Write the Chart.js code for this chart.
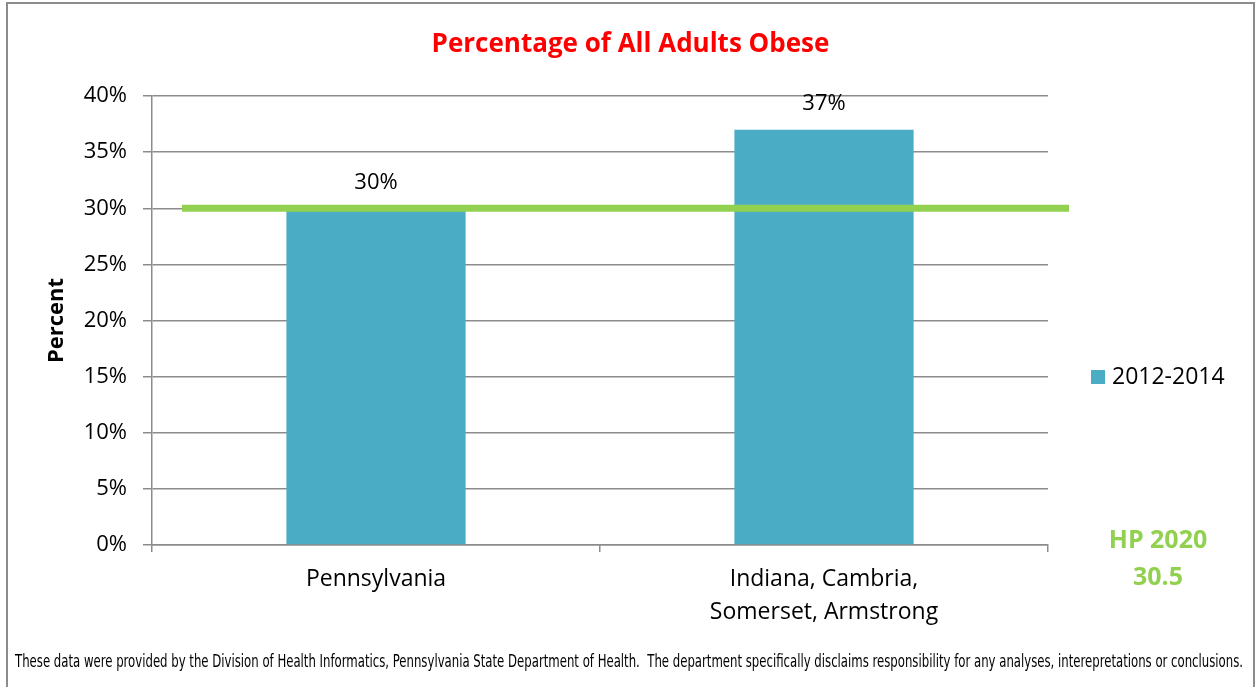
<!DOCTYPE html>
<html lang="en">
<head>
  <meta charset="UTF-8" />
  <title>Percentage of All Adults Obese</title>
  <script src="https://cdn.jsdelivr.net/npm/chart.js"></script>
  <style>
    * { margin: 0; padding: 0; box-sizing: border-box; }
    body { width: 1255px; height: 687px; background: #fff; position: relative; overflow: hidden; }
    #frame {
      position: absolute; left: 6px; top: 2px; width: 1249px; height: 720px;
      border: 2px solid #8c8c8c; pointer-events: none;
    }
    canvas { position: absolute; left: 0; top: 0; }
  </style>
</head>
<body>
  <div id="frame"></div>
  <canvas id="obeseChart" width="1255" height="687"></canvas>

  <script>
    // chart data
    const categories = ['Pennsylvania', ['Indiana, Cambria,', 'Somerset, Armstrong']];
    const obesePct = [30, 37];
    const seriesLabel = '2012-2014';
    const hpLineValue = 30;          // green target line, as drawn
    const hpLabel = ['HP 2020', '30.5'];
    const yMin = 0, yMax = 40, yStep = 5;
    const chartTitle = 'Percentage of All Adults Obese';
    const footerText = 'These data were provided by the Division of Health Informatics, Pennsylvania State Department of Health.  The department specifically disclaims responsibility for any analyses, interepretations or conclusions.';

    const barBlue = '#4BACC6';
    const hpGreen = '#92D050';
    const gridGray = '#8c8c8c';

    Chart.defaults.font.family = "'Open Sans', sans-serif";
    Chart.defaults.color = '#000';

    const overlay = {
      id: 'overlay',
      afterDatasetsDraw(chart) {
        const { ctx, chartArea, scales } = chart;
        // HP 2020 target line
        const y = scales.y.getPixelForValue(hpLineValue);
        ctx.save();
        ctx.strokeStyle = hpGreen;
        ctx.lineWidth = 7;
        ctx.beginPath();
        ctx.moveTo(chartArea.left + 30, y);
        ctx.lineTo(chartArea.right + 21, y);
        ctx.stroke();

        // value labels over bars
        ctx.fillStyle = '#000';
        ctx.font = "22px 'Open Sans', sans-serif";
        ctx.textAlign = 'center';
        ctx.textBaseline = 'middle';
        chart.getDatasetMeta(0).data.forEach((bar, i) => {
          ctx.fillText(obesePct[i] + '%', bar.x, bar.y - 26);
        });
        ctx.restore();
      },
      afterDraw(chart) {
        const { ctx, chartArea, width } = chart;
        ctx.save();
        ctx.textBaseline = 'middle';

        // title, centred on the whole picture
        ctx.fillStyle = '#ff0000';
        ctx.font = "bold 26px 'Open Sans', sans-serif";
        ctx.textAlign = 'center';
        ctx.fillText(chartTitle, width / 2 + 3, 45);

        // legend
        const lx = chartArea.right + 43, ly = 377;
        ctx.fillStyle = barBlue;
        ctx.fillRect(lx, ly - 7, 14, 14);
        ctx.fillStyle = '#000';
        ctx.font = "23px 'Open Sans', sans-serif";
        ctx.textAlign = 'left';
        ctx.fillText(seriesLabel, lx + 21, ly);

        // HP 2020 note
        ctx.fillStyle = hpGreen;
        ctx.font = "bold 25px 'Open Sans', sans-serif";
        ctx.textAlign = 'center';
        ctx.fillText(hpLabel[0], chartArea.right + 110, chartArea.bottom - 4);
        ctx.fillText(hpLabel[1], chartArea.right + 110, chartArea.bottom + 33);

        // footer
        ctx.fillStyle = '#000';
        ctx.font = "18px 'Liberation Sans Narrow', 'DejaVu Sans Condensed', sans-serif";
        ctx.textAlign = 'left';
        ctx.fillText(footerText, 15, 662, 1228);
        ctx.restore();
      }
    };

    new Chart(document.getElementById('obeseChart'), {
      type: 'bar',
      data: {
        labels: categories,
        datasets: [{
          label: seriesLabel,
          data: obesePct,
          backgroundColor: barBlue,
          categoryPercentage: 1,
          barPercentage: 0.4
        }]
      },
      options: {
        responsive: false,
        animation: false,
        layout: { padding: { left: 0, right: 207, top: 96, bottom: 0 } },
        plugins: {
          legend: { display: false },
          tooltip: { enabled: false },
          title: { display: false }
        },
        scales: {
          x: {
            afterFit: s => { s.height = 142; },
            grid: { offset: true, drawOnChartArea: false, drawTicks: true, tickLength: 7, color: gridGray, lineWidth: 1.5 },
            border: { display: true, color: gridGray, width: 1.5 },
            ticks: { font: { size: 23, lineHeight: 1.42 }, color: '#000', padding: 11, maxRotation: 0 }
          },
          y: {
            min: yMin,
            max: yMax,
            afterFit: s => { s.width = 152; },
            grid: { color: gridGray, lineWidth: 1.5, tickLength: 9 },
            border: { display: true, color: gridGray, width: 1.5 },
            ticks: {
              stepSize: yStep,
              padding: 16,
              font: { size: 22 },
              color: '#000',
              callback: v => v + '%'
            },
            title: {
              display: true,
              text: 'Percent',
              font: { size: 22, weight: 'bold' },
              color: '#000',
              padding: { top: 44, bottom: 0 }
            }
          }
        }
      },
      plugins: [overlay]
    });
  </script>
</body>
</html>
